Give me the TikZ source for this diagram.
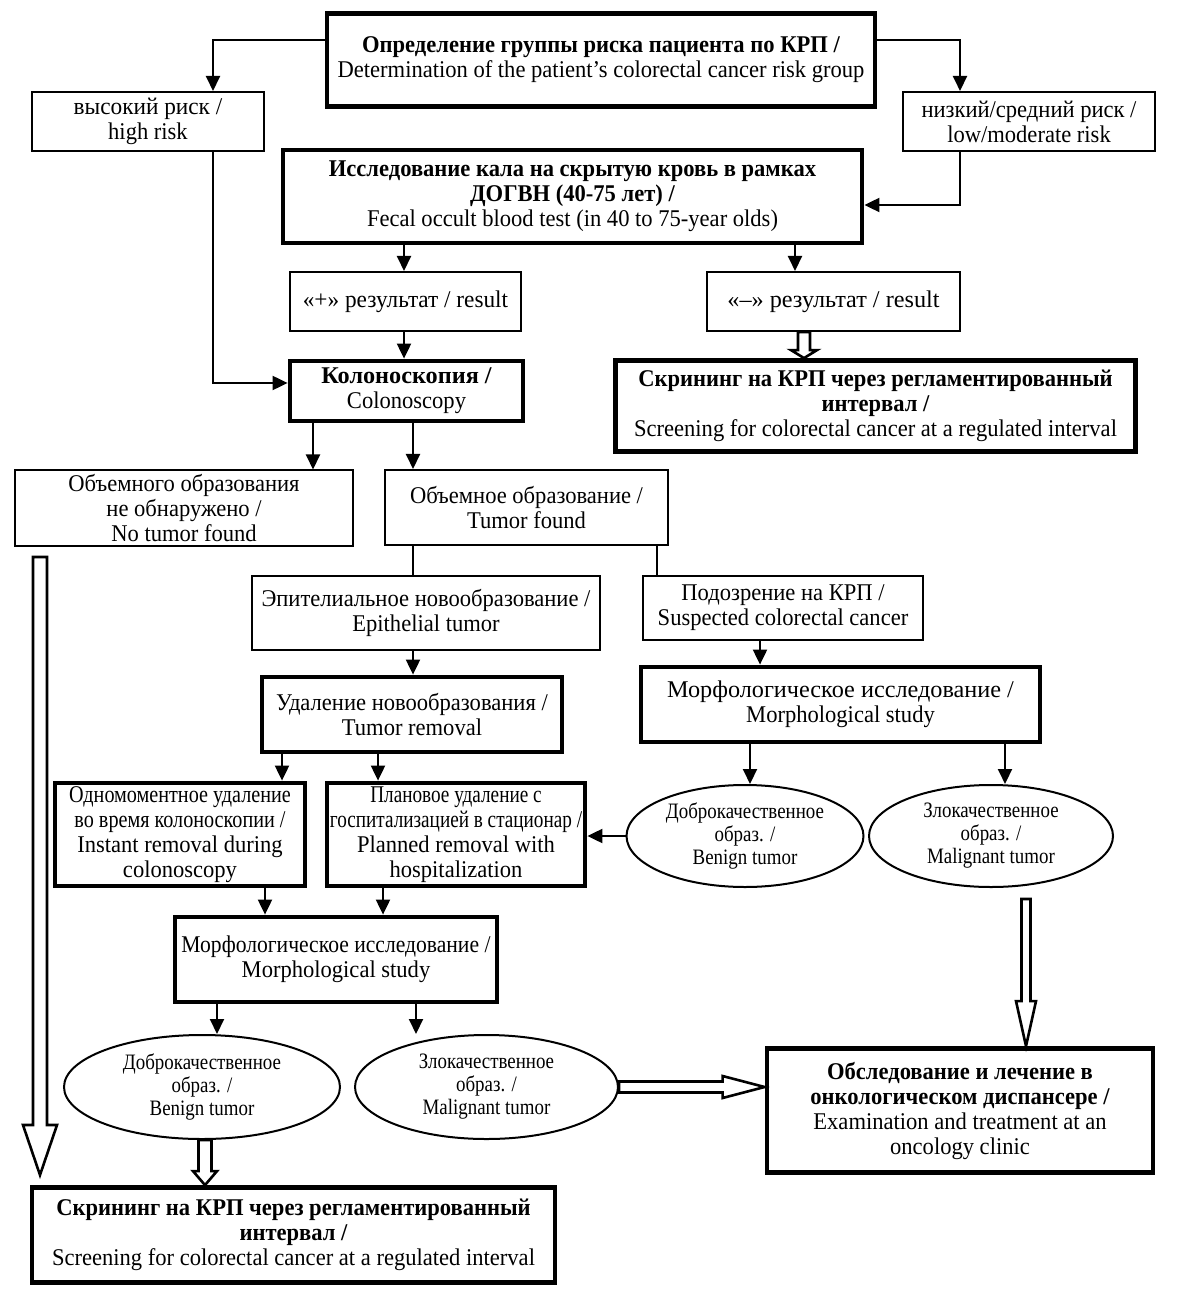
\documentclass[tikz,border=0pt]{standalone}
\usepackage{fontspec}
\setmainfont{Liberation Serif}[FakeStretch=0.94]
\newfontfamily\ellfont{Liberation Serif}[FakeStretch=0.86]
\newfontfamily\fA{Liberation Serif}[FakeStretch=0.8]
\newfontfamily\fB{Liberation Serif}[FakeStretch=0.84]
\newfontfamily\fC{Liberation Serif}[FakeStretch=0.9]
\newfontfamily\fE{Liberation Serif}[FakeStretch=0.97]
\newfontfamily\fD{Liberation Serif}[FakeStretch=1.01]
\usetikzlibrary{arrows.meta,shapes.geometric,calc}
\newcommand\vhol[5]{\draw[hollow] let \p1=(#1), \p2=(#2) in
 (\x1-#3*0.5pt,\y1) -- (\x1-#3*0.5pt,\y2+#5*0.5pt) -- (\x1-#4*0.5pt,\y2+#5*0.5pt) -- (\x1,\y2) -- (\x1+#4*0.5pt,\y2+#5*0.5pt) -- (\x1+#3*0.5pt,\y2+#5*0.5pt) -- (\x1+#3*0.5pt,\y1) -- cycle;}
\newcommand\hhol[5]{\draw[hollow] let \p1=(#1), \p2=(#2) in
 (\x1,\y1+#3*0.5pt) -- (\x2-#5*0.5pt,\y1+#3*0.5pt) -- (\x2-#5*0.5pt,\y1+#4*0.5pt) -- (\x2,\y1) -- (\x2-#5*0.5pt,\y1-#4*0.5pt) -- (\x2-#5*0.5pt,\y1-#3*0.5pt) -- (\x1,\y1-#3*0.5pt) -- cycle;}
\begin{document}
\begin{tikzpicture}[x=0.5pt,y=-0.5pt,
  thinbox/.style={draw, line width=1pt, rectangle, align=center, inner sep=0pt, font=\fontsize{12}{12.5}\selectfont},
  thickbox/.style={thinbox, line width=2.4pt},
  ell/.style={draw, ellipse, line width=1pt, align=center, inner sep=0pt, font=\ellfont\fontsize{11}{11.5}\selectfont},
  sz/.style 2 args={minimum width=#1*0.5pt, minimum height=#2*0.5pt},
  conn/.style={line width=1pt, -{Triangle[length=7.5pt,width=7pt]}},
  plainline/.style={line width=1pt},
  hollow/.style={line width=1.3pt, line join=miter, fill=white}]
\useasboundingbox (0,0) rectangle (1200,1293);

\node[thickbox, sz={548}{93}] (top) at (601,60) {{\bfseries Определение группы риска пациента по КРП /}\\Determination of the patient’s colorectal cancer risk group};
\node[thinbox, sz={232}{59}] (high) at (148,121.5) {{\fE высокий риск /}\\high risk};
\node[thinbox, sz={252}{59}] (low) at (1029,121.5) {низкий/средний риск /\\low/moderate risk};
\node[thickbox, sz={579}{93}] (fobt) at (572.5,196.5) {{\bfseries Исследование кала на скрытую кровь в рамках}\\{\bfseries ДОГВН (40-75 лет) /}\\Fecal occult blood test (in 40 to 75-year olds)};
\node[thinbox, sz={231}{59}] (plus) at (405.5,301.5) {\fE «+» результат / result};
\node[thinbox, sz={253}{59}] (minus) at (833.5,301.5) {\fD «–» результат / result};
\node[thickbox, sz={233}{60}] (colon) at (406.5,391) {{\fD\bfseries Колоноскопия /}\\Colonoscopy};
\node[thickbox, sz={520}{91}] (scr1) at (875.5,406) {{\bfseries Скрининг на КРП через регламентированный}\\{\bfseries интервал /}\\Screening for colorectal cancer at a regulated interval};
\node[thinbox, sz={338}{75}] (notumor) at (184,508) {Объемного образования\\не обнаружено /\\No tumor found};
\node[thinbox, sz={283}{75}] (tumor) at (526.5,507.5) {Объемное образование /\\Tumor found};
\node[thinbox, sz={348}{74}] (epi) at (426,613) {Эпителиальное новообразование /\\Epithelial tumor};
\node[thinbox, sz={280}{64}] (susp) at (783,608) {Подозрение на КРП /\\Suspected colorectal cancer};
\node[thickbox, sz={300}{75}] (removal) at (412,714.5) {Удаление новообразования /\\Tumor removal};
\node[thickbox, sz={399}{75}] (morphR) at (840.5,704.5) {{\fD Морфологическое исследование /}\\Morphological study};
\node[thickbox, sz={250}{103}] (instant) at (180,834.5) {{\fB Одномоментное удаление}\\{\fB во время колоноскопии /}\\Instant removal during\\colonoscopy};
\node[thickbox, sz={258}{103}] (planned) at (456,834.5) {{\fA Плановое удаление с}\\{\fA госпитализацией в стационар /}\\Planned removal with\\hospitalization};
\node[ell, sz={237}{102}] (benR) at (745,836) {Доброкачественное\\образ. /\\Benign tumor};
\node[ell, sz={244}{102}] (malR) at (991,836) {Злокачественное\\образ. /\\Malignant tumor};
\node[thickbox, sz={322}{85}] (morphL) at (336,959.5) {\fC Морфологическое исследование /\\Morphological study};
\node[ell, sz={276}{104}] (benL) at (202,1087) {Доброкачественное\\образ. /\\Benign tumor};
\node[ell, sz={263}{104}] (malL) at (486.5,1087) {Злокачественное\\образ. /\\Malignant tumor};
\node[thickbox, sz={386}{124}] (onco) at (960,1110.5) {{\bfseries Обследование и лечение в}\\{\bfseries онкологическом диспансере /}\\Examination and treatment at an\\oncology clinic};
\node[thickbox, sz={523}{95}] (scr2) at (293.5,1235) {{\bfseries Скрининг на КРП через регламентированный}\\{\bfseries интервал /}\\Screening for colorectal cancer at a regulated interval};

\draw[conn] (top.west |- 0,40) -| (high.north -| 213,0);
\draw[conn] (top.east |- 0,40) -| (low.north -| 960,0);
\draw[conn] (high.south -| 213,0) |- (colon.west |- 0,383);
\draw[conn] (low.south -| 960,0) |- (fobt.east |- 0,205);
\draw[conn] (fobt.south -| 404,0) -- (plus.north -| 404,0);
\draw[conn] (fobt.south -| 795,0) -- (minus.north -| 795,0);
\draw[conn] (plus.south -| 404,0) -- (colon.north -| 404,0);
\draw[conn] (colon.south -| 313,0) -- (notumor.north -| 313,0);
\draw[conn] (colon.south -| 413,0) -- (tumor.north -| 413,0);
\draw[plainline] (tumor.south -| 413,0) -- (epi.north -| 413,0);
\draw[plainline] (tumor.south -| 657,0) -- (susp.north -| 657,0);
\draw[conn] (epi.south -| 413,0) -- (removal.north -| 413,0);
\draw[conn] (susp.south -| 760,0) -- (morphR.north -| 760,0);
\draw[conn] (removal.south -| 282,0) -- (instant.north -| 282,0);
\draw[conn] (removal.south -| 378,0) -- (planned.north -| 378,0);
\draw[conn] (morphR.south -| 750,0) -- (benR.north -| 750,0);
\draw[conn] (morphR.south -| 1005,0) -- (malR.north -| 1005,0);
\draw[conn] (benR.west) -- (planned.east |- benR.west);
\draw[conn] (instant.south -| 265,0) -- (morphL.north -| 265,0);
\draw[conn] (planned.south -| 383,0) -- (morphL.north -| 383,0);
\draw[conn] (morphL.south -| 217,0) -- (benL.north -| 217,0);
\draw[conn] (morphL.south -| 416,0) -- (malL.north -| 416,0);

\coordinate (la1) at (40,557);
\coordinate (la2) at (40,1175);
\vhol{la1}{la2}{7}{17}{50}
\vhol{minus.south -| 804,0}{scr1.north -| 804,0}{6}{13}{8}
\vhol{benL.south -| 205,0}{scr2.north -| 205,0}{6.5}{12}{14}
\coordinate (mr) at (1026,899);
\vhol{mr}{onco.north -| mr}{4.5}{10}{45}
\hhol{malL.east}{onco.west |- malL.east}{5.5}{11}{42}
\end{tikzpicture}
\end{document}
